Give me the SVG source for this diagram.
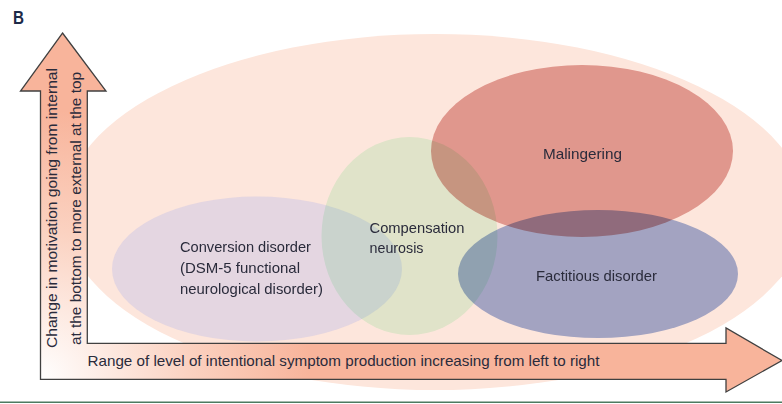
<svg xmlns="http://www.w3.org/2000/svg" width="782" height="404" viewBox="0 0 782 404">
<style>
.lbl{font-family:"Liberation Sans",Arial,sans-serif;font-size:14.5px;fill:#2a2b3b;}
.ax{font-family:"Liberation Sans",Arial,sans-serif;font-size:14.5px;fill:#2a2b3b;}
.mul{mix-blend-mode:multiply;}
</style>
<defs>
<radialGradient id="arrowGrad" gradientUnits="userSpaceOnUse" cx="40" cy="380" r="270">
<stop offset="0" stop-color="#ffffff"/>
<stop offset="0.55" stop-color="#fbd2c1"/>
<stop offset="1" stop-color="#f8b49b"/>
</radialGradient>
</defs>
<rect x="0" y="0" width="782" height="404" fill="#ffffff"/>
<text x="13" y="24" font-family="Liberation Sans,Arial,sans-serif" font-size="18" font-weight="bold" fill="#1d2a48" textLength="11" lengthAdjust="spacingAndGlyphs">B</text>
<g style="isolation:isolate">
<ellipse id="background" cx="435" cy="212" rx="372" ry="178" fill="#fde6dc"/>
<g id="conversion">
<ellipse cx="257" cy="269" rx="145" ry="72.5" fill="#cbc6e6" fill-opacity="0.5"/>
<text class="lbl" x="180" y="252" textLength="131" lengthAdjust="spacingAndGlyphs">Conversion disorder</text>
<text class="lbl" x="180" y="273" textLength="120" lengthAdjust="spacingAndGlyphs">(DSM-5 functional</text>
<text class="lbl" x="180" y="294" textLength="143" lengthAdjust="spacingAndGlyphs">neurological disorder)</text>
</g>
<g id="compensation">
<ellipse class="mul" cx="409.5" cy="236" rx="88" ry="99" fill="#e2fce9"/>
<text class="lbl" x="369.5" y="233" textLength="95" lengthAdjust="spacingAndGlyphs">Compensation</text>
<text class="lbl" x="369.5" y="252.5" textLength="54" lengthAdjust="spacingAndGlyphs">neurosis</text>
</g>
<g id="malingering">
<ellipse class="mul" cx="582" cy="151" rx="151" ry="86" fill="#e2a7a3"/>
<text class="lbl" x="543" y="159" textLength="79" lengthAdjust="spacingAndGlyphs">Malingering</text>
</g>
<g id="factitious">
<ellipse class="mul" cx="598" cy="274" rx="140" ry="64" fill="#a4b5e0"/>
<text class="lbl" x="536" y="281" textLength="121" lengthAdjust="spacingAndGlyphs">Factitious disorder</text>
</g>
</g>
<g id="connectors">
<polygon points="62.5,33 106,91 87.3,91 87.3,343.3 726,343.3 726,328 782,360.5 726,392 726,379.3 40.5,379.3 40.5,91 20.5,91" fill="url(#arrowGrad)" stroke="#404040" stroke-width="1.3" stroke-linejoin="miter"/>
<text class="ax" x="87.5" y="366" textLength="512" lengthAdjust="spacingAndGlyphs">Range of level of intentional symptom production increasing from left to right</text>
<text class="ax" transform="translate(57,348) rotate(-90)" textLength="280" lengthAdjust="spacingAndGlyphs">Change in motivation going from internal</text>
<text class="ax" transform="translate(81,345) rotate(-90)" textLength="273" lengthAdjust="spacingAndGlyphs">at the bottom to more external at the top</text>
</g>
<rect x="0" y="401.5" width="782" height="1.5" fill="#4d7a60"/>
</svg>
